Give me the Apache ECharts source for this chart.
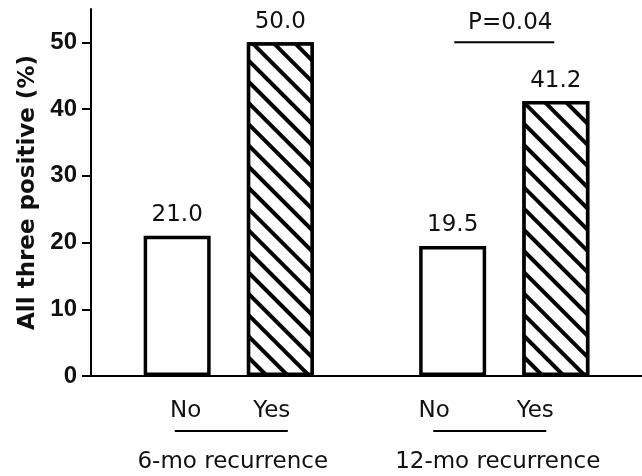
<!DOCTYPE html>
<html><head><meta charset="utf-8">
<script src="https://cdn.jsdelivr.net/npm/echarts@6/dist/echarts.min.js"></script>
<style>html,body{margin:0;padding:0;background:#fff}#c{width:642px;height:476px}</style>
</head><body><div id="c"></div>
<script>
// ---- data ----
const groups = ['6-mo recurrence', '12-mo recurrence'];
const subLabels = ['No', 'Yes'];
const noValues = [21.0, 19.5];
const yesValues = [50.0, 41.2];
const yTicks = [0, 10, 20, 30, 40, 50];
const yTitle = 'All three positive (%)';
const pLabel = 'P=0.04';

// ---- annotation layout (pixel offsets relative to group centre / x axis) ----
const annot = [
  {no: -43, yes: 43, ul: [-54, 59], title: 4},
  {no: -70, yes: 31, ul: [-71, 42], title: -6.5}
];

const chart = echarts.init(document.getElementById('c'), null, {renderer: 'canvas'});
const txtFont = 'DejaVu Sans';
const fs = 23;
const lbl = {show: true, position: 'top', distance: 9, fontFamily: txtFont, fontSize: fs, color: '#111',
  formatter: p => Number(p.value).toFixed(1)};

chart.setOption({
  animation: false,
  grid: {left: 91, right: -3, top: 9, bottom: 100, containLabel: false},
  xAxis: {type: 'category', data: groups,
    axisLine: {lineStyle: {color: '#000', width: 2}},
    axisTick: {alignWithLabel: true, length: 9, lineStyle: {color: '#333', width: 1.5}},
    axisLabel: {show: false}, splitLine: {show: false}},
  yAxis: {type: 'value', min: 0, max: 55,
    name: yTitle, nameLocation: 'middle', nameGap: 48, nameRotate: 90,
    nameTextStyle: {fontFamily: 'DejaVu Sans', fontWeight: 'bold', fontSize: 23, color: '#111'},
    axisLine: {show: true, lineStyle: {color: '#000', width: 2}},
    axisTick: {show: true, customValues: yTicks, length: 9, lineStyle: {color: '#000', width: 2}},
    axisLabel: {customValues: yTicks, margin: 14, fontFamily: "'Liberation Sans Narrow', 'Liberation Sans'",
      fontWeight: 'bold', fontSize: 24, color: '#111'},
    splitLine: {show: false}},
  series: [
    {type: 'bar', name: subLabels[0], data: noValues, barWidth: 67, barGap: '54%',
      itemStyle: {color: '#fff', borderColor: '#000', borderWidth: 3.5}, label: lbl},
    {type: 'bar', name: subLabels[1], data: yesValues, barWidth: 67,
      itemStyle: {color: '#fff', borderColor: '#000', borderWidth: 3.5,
        decal: {symbol: 'rect', symbolSize: 1, dashArrayX: [1, 0], dashArrayY: [3.5, 10.5],
          rotation: Math.PI / 4, color: '#000', backgroundColor: '#fff'}},
      label: lbl}
  ]
});

// ---- annotations derived from axis coordinates ----
const axisY = chart.convertToPixel({yAxisIndex: 0}, 0);
const g = [];
groups.forEach((name, i) => {
  const cx = chart.convertToPixel({xAxisIndex: 0}, name);
  const a = annot[i];
  g.push({type: 'text', style: {text: subLabels[0], x: cx + a.no, y: axisY + 35, fontFamily: txtFont, fontSize: fs, fill: '#111', align: 'center', verticalAlign: 'middle'}});
  g.push({type: 'text', style: {text: subLabels[1], x: cx + a.yes, y: axisY + 35, fontFamily: txtFont, fontSize: fs, fill: '#111', align: 'center', verticalAlign: 'middle'}});
  g.push({type: 'line', shape: {x1: cx + a.ul[0], y1: axisY + 55, x2: cx + a.ul[1], y2: axisY + 55}, style: {stroke: '#000', lineWidth: 2}});
  g.push({type: 'text', style: {text: name, x: cx + a.title, y: axisY + 86, fontFamily: txtFont, fontSize: fs, fill: '#111', align: 'center', verticalAlign: 'middle'}});
});
// P-value bracket over the 12-mo group
const c2 = chart.convertToPixel({xAxisIndex: 0}, groups[1]);
const yTop = chart.convertToPixel({yAxisIndex: 0}, 50);
g.push({type: 'line', shape: {x1: c2 - 50, y1: yTop, x2: c2 + 50, y2: yTop}, style: {stroke: '#000', lineWidth: 2}});
g.push({type: 'text', style: {text: pLabel, x: c2 + 6, y: yTop - 19, fontFamily: txtFont, fontSize: fs, fill: '#111', align: 'center', verticalAlign: 'middle'}});
chart.setOption({graphic: g});
</script>
</body></html>
